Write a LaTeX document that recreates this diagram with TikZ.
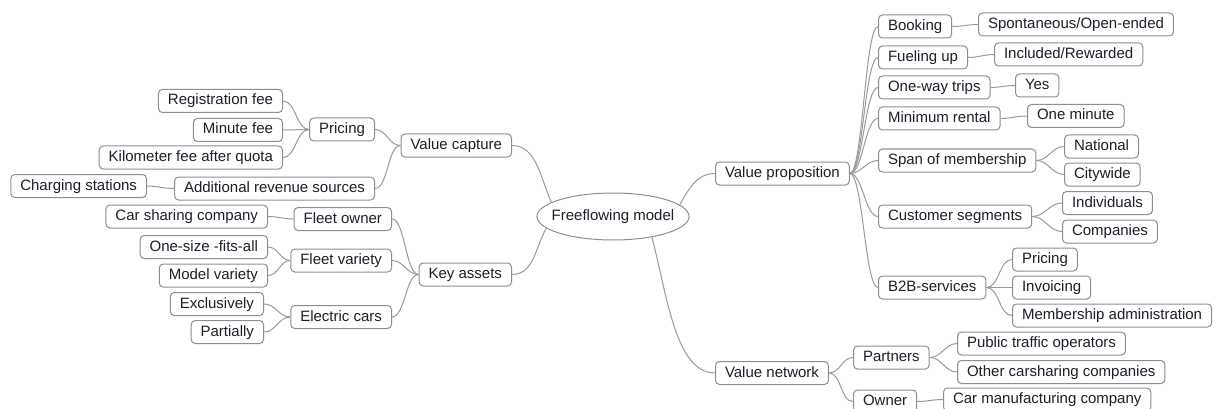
\documentclass[tikz,border=0pt]{standalone}
\usepackage{fontspec}
\setmainfont{Liberation Sans}
\usetikzlibrary{shapes.geometric}
\definecolor{boxline}{HTML}{8E8E8E}
\definecolor{linkline}{HTML}{9A9A9A}
\definecolor{txt}{HTML}{1E1E2A}
\tikzset{
  topic/.style={draw=boxline, line width=1pt, rounded corners=4pt, fill=white,
    text=txt, font=\fontsize{15}{18}\selectfont, inner xsep=9.5pt, inner ysep=0pt,
    minimum height=23pt, text height=11pt, text depth=3pt},
  rt/.style={topic, anchor=west},
  lt/.style={topic, anchor=east},
  central/.style={draw=boxline, line width=1pt, ellipse, fill=white, text=txt,
    font=\fontsize{15}{18}\selectfont, minimum width=152pt, minimum height=47pt,
    inner xsep=-7.5pt, inner ysep=0pt, text height=11pt, text depth=3pt},
  link/.style={draw=linkline, line width=1pt},
  rlink/.style={link, out=0, in=180, out max distance=13pt, in max distance=13pt},
  llink/.style={link, out=180, in=0, out max distance=13pt, in max distance=13pt}
}
\begin{document}
\begin{tikzpicture}[x=1pt, y=-1pt]
\useasboundingbox (0,0) rectangle (1215,409);
\clip (0,0) rectangle (1215,409);
\fill[white] (0,0) rectangle (1215,409);

% central
\node[central] (ff) at (613,216.5) {Freeflowing model};

% right side
\node[rt] (vp) at (715,173.5) {Value proposition};
\node[rt] (booking) at (878,26.5) {Booking};
\node[rt] (spont) at (978,24.5) {Spontaneous/Open-ended};
\node[rt] (fuel) at (878,57.5) {Fueling up};
\node[rt] (incl) at (994,54.5) {Included/Rewarded};
\node[rt] (oneway) at (878,87.5) {One-way trips};
\node[rt] (yes) at (1015,85.5) {Yes};
\node[rt] (minr) at (878,118.5) {Minimum rental};
\node[rt] (onemin) at (1027,116) {One minute};
\node[rt] (span) at (878,160.5) {Span of membership};
\node[rt] (natl) at (1064,146.5) {National};
\node[rt] (cityw) at (1064,174.5) {Citywide};
\node[rt] (cust) at (878,216.5) {Customer segments};
\node[rt] (indiv) at (1062,203) {Individuals};
\node[rt] (comp) at (1062,231.5) {Companies};
\node[rt] (b2b) at (878,287.5) {B2B-services};
\node[rt] (pric2) at (1012,259.5) {Pricing};
\node[rt] (invo) at (1012,287.5) {Invoicing};
\node[rt] (memb) at (1012,315.5) {Membership administration};
\node[rt] (vn) at (715,373) {Value network};
\node[rt] (partners) at (853,357.5) {Partners};
\node[rt] (owner) at (853,401.5) {Owner};
\node[rt] (pto) at (957,343.5) {Public traffic operators};
\node[rt] (other) at (957,372) {Other carsharing companies};
\node[rt] (carman) at (943,399.5) {Car manufacturing company};

% left side
\node[lt] (vc) at (512,145.5) {Value capture};
\node[lt] (pricing) at (375,129.5) {Pricing};
\node[lt] (reg) at (283,101) {Registration fee};
\node[lt] (minfee) at (283,130) {Minute fee};
\node[lt] (km) at (283,157.5) {Kilometer fee after quota};
\node[lt] (ars) at (375,188.5) {Additional revenue sources};
\node[lt] (charg) at (147,186) {Charging stations};
\node[lt] (ka) at (512,274.5) {Key assets};
\node[lt] (fo) at (392,219) {Fleet owner};
\node[lt] (carsh) at (268,216.5) {Car sharing company};
\node[lt] (fv) at (392,260.5) {Fleet variety};
\node[lt] (onesize) at (268,247) {One-size -fits-all};
\node[lt] (modelv) at (268,275.5) {Model variety};
\node[lt] (ec) at (392,317) {Electric cars};
\node[lt] (excl) at (264,304) {Exclusively};
\node[lt] (part) at (264,332) {Partially};

% connectors from the central topic
\draw[link] (ff.10) to[out=60, in=180, out max distance=25pt, in max distance=22pt] (vp.west);
\draw[link] (ff.-28) to[out=-75, in=180, out max distance=70pt, in max distance=40pt] (vn.west);
\draw[link] (vc.east) to[out=0, in=115, out max distance=25pt, in max distance=25pt] (ff.167);
\draw[link] (ka.east) to[out=0, in=-120, out max distance=22pt, in max distance=22pt] (ff.190);

% right connectors
\foreach \c in {booking,fuel,oneway,minr,span,cust,b2b}{\draw[rlink] (vp.east) to (\c.west);}
\draw[rlink] (booking.east) to (spont.west);
\draw[rlink] (fuel.east) to (incl.west);
\draw[rlink] (oneway.east) to (yes.west);
\draw[rlink] (minr.east) to (onemin.west);
\draw[rlink] (span.east) to (natl.west);
\draw[rlink] (span.east) to (cityw.west);
\draw[rlink] (cust.east) to (indiv.west);
\draw[rlink] (cust.east) to (comp.west);
\draw[rlink] (b2b.east) to (pric2.west);
\draw[rlink] (b2b.east) to (invo.west);
\draw[rlink] (b2b.east) to (memb.west);
\draw[rlink] (vn.east) to (partners.west);
\draw[rlink] (vn.east) to (owner.west);
\draw[rlink] (partners.east) to (pto.west);
\draw[rlink] (partners.east) to (other.west);
\draw[rlink] (owner.east) to (carman.west);

% left connectors
\draw[llink] (vc.west) to (pricing.east);
\draw[llink] (vc.west) to (ars.east);
\draw[llink] (pricing.west) to (reg.east);
\draw[llink] (pricing.west) to (minfee.east);
\draw[llink] (pricing.west) to (km.east);
\draw[llink] (ars.west) to (charg.east);
\draw[llink] (ka.west) to (fo.east);
\draw[llink] (ka.west) to (fv.east);
\draw[llink] (ka.west) to (ec.east);
\draw[llink] (fo.west) to (carsh.east);
\draw[llink] (fv.west) to (onesize.east);
\draw[llink] (fv.west) to (modelv.east);
\draw[llink] (ec.west) to (excl.east);
\draw[llink] (ec.west) to (part.east);
\end{tikzpicture}
\end{document}
